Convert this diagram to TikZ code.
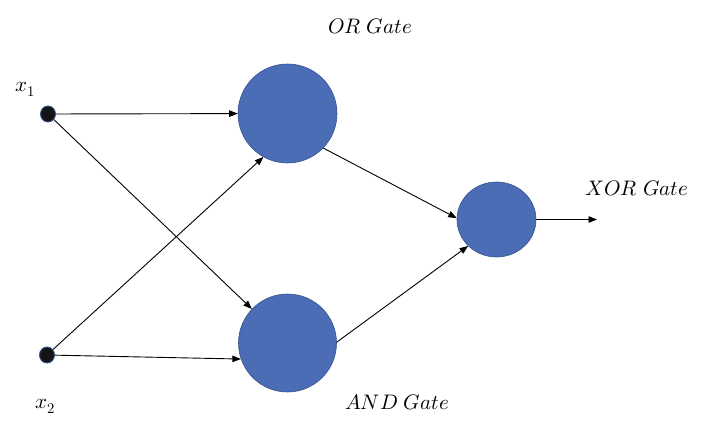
\documentclass[tikz,border=0pt]{standalone}
\usepackage{unicode-math}
\usetikzlibrary{arrows.meta,shapes.geometric}
\definecolor{gatefill}{RGB}{74,109,182}
\definecolor{gateline}{RGB}{52,82,140}
\definecolor{dotfill}{RGB}{20,20,22}
\tikzset{
  gate/.style={circle,fill=gatefill,draw=gateline,line width=0.6pt,inner sep=0pt},
  inputdot/.style={ellipse,fill=dotfill,draw=gateline,line width=0.9pt,inner sep=0pt,minimum width=15pt,minimum height=16pt},
  conn/.style={line width=0.9pt,-{Triangle[length=8.5pt,width=6.5pt]}},
  lbl/.style={font=\fontsize{21}{21}\selectfont,inner sep=0pt}
}
\begin{document}
\begin{tikzpicture}[x=1pt,y=-1pt]
\useasboundingbox (0,0) rectangle (709,430);
\node[inputdot] (x1) at (48,114) {};
\node[inputdot] (x2) at (47,355) {};
\node[gate,minimum size=99pt] (or) at (287.5,113.5) {};
\node[gate,minimum size=98pt] (and) at (287.5,343) {};
\node[gate,ellipse,minimum width=79pt,minimum height=75pt] (xor) at (496.5,219.5) {};
\coordinate (out) at (597,219.5);
\node[lbl] (lx1) at (25,89) {$x_1$};
\node[lbl] (lx2) at (45,406) {$x_2$};
\node[lbl] (lor) at (370,26) {$OR\ Gate$};
\node[lbl] (land) at (397,402) {$AND\ Gate$};
\node[lbl] (lxor) at (637,188) {$XOR\ Gate$};
\draw[conn] (x1) -- (or);
\draw[conn] (x1) -- (and);
\draw[conn] (x2) -- (or.241);
\draw[conn] (x2) -- (and.199);
\draw[conn] (or.316) -- (xor.178);
\draw[conn] (and.1) -- (xor.223);
\draw[conn] (xor) -- (out);
\end{tikzpicture}
\end{document}
